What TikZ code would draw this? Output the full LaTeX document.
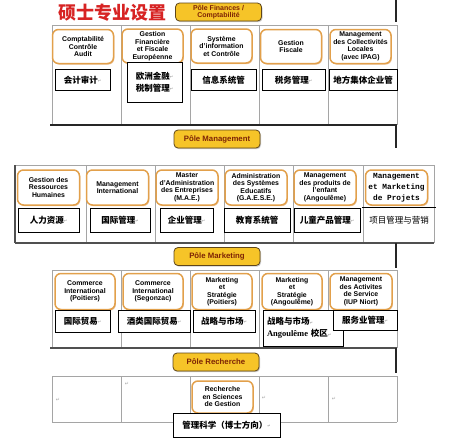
\documentclass[tikz,border=0pt]{standalone}
\usepackage{fontspec}
\setmainfont{Liberation Sans}
\newfontfamily\cjk{Noto Sans CJK SC}
\newfontfamily\monof{Liberation Mono}
\newfontfamily\symf{DejaVu Sans}
\newfontfamily\serf{Liberation Serif}
\usetikzlibrary{shadows}
\definecolor{pillorange}{RGB}{226,160,75}
\definecolor{polefill}{RGB}{246,196,40}
\definecolor{poleborder}{RGB}{95,70,25}
\definecolor{poletext}{RGB}{125,35,5}
\definecolor{titlered}{RGB}{215,35,35}
\definecolor{gridgray}{RGB}{165,165,165}
\definecolor{thickgray}{RGB}{80,80,80}
\newcommand{\rmk}{{\symf\color{gray!70}\fontsize{4}{4}\selectfont\raisebox{0.3ex}{↵}}}
\tikzset{
  pill/.style={draw=pillorange, line width=1.5pt, fill=white, rounded corners=6pt,
    drop shadow={shadow xshift=0.9pt, shadow yshift=-1.1pt, opacity=0.45, fill=brown!70!orange},
    font=\bfseries\fontsize{6.9}{7.5}\selectfont, align=center, inner sep=0pt,
    minimum width=61pt, minimum height=34pt},
  cbox/.style={draw=black, line width=0.8pt, fill=white,
    drop shadow={shadow xshift=0.6pt, shadow yshift=-0.6pt, opacity=0.25},
    font=\cjk\bfseries\fontsize{8.5}{12}\selectfont, inner sep=1pt, minimum height=21pt},
  pole/.style={draw=poleborder, line width=0.8pt, fill=polefill, rounded corners=4pt,
    drop shadow={shadow xshift=1pt, shadow yshift=-1.2pt, opacity=0.4},
    font=\bfseries\fontsize{7.8}{8}\selectfont, text=poletext, align=center,
    minimum width=86pt, minimum height=18pt, inner sep=0.5pt},
  grid/.style={draw=gridgray, line width=0.8pt},
  thickline/.style={draw=thickgray, line width=2pt},
  link/.style={draw=black!85, line width=1.4pt},
  retmark/.style={inner sep=0pt, font=\symf\color{gray!70}\fontsize{5}{5}\selectfont}
}
\begin{document}
\begin{tikzpicture}[x=1pt,y=-1pt]
\useasboundingbox (0,0) rectangle (450,440);
\fill[white] (0,0) rectangle (450,440);

% ---------- Section 1: Finances ----------
\node[font=\cjk\bfseries\fontsize{18}{18}\selectfont, text=titlered, inner sep=0pt] (title) at (112,13) {硕士专业设置};
\node[pole, font=\bfseries\fontsize{7}{7}\selectfont] (pfin) at (218.5,12) {Pôle Finances /\\Comptabilité};
\coordinate (f0) at (396,0);
\coordinate (f1) at (396,22);
\draw[link] (f0) -- (f1);

\foreach \x in {52,121,190,259,328,397} \draw[grid] (\x,25) -- (\x,125);
\draw[grid] (52,25) -- (397,25);
\coordinate (t1bl) at (50,125);
\coordinate (t1br) at (397,125);
\draw[draw=black!85, line width=1.4pt] (t1bl) -- (t1br);

\node[pill] (p11) at (83,46.5) {Comptabilité\\Contrôle\\Audit};
\node[pill] (p12) at (152.5,46) {Gestion\\Financière\\et Fiscale\\Européenne};
\node[pill] (p13) at (221.5,46) {Système\\d'information\\et Contrôle};
\node[pill] (p14) at (291,46.5) {Gestion\\Fiscale};
\node[pill] (p15) at (360.5,46.5) {Management\\des Collectivités\\Locales\\(avec IPAG)};

\node[cbox, minimum width=55pt] (c11) at (82.5,80) {会计审计\rmk};
\node[cbox, minimum width=55pt, minimum height=40pt, align=center] (c12) at (154.5,82) {欧洲金融\rmk\\税制管理\rmk};
\node[cbox, minimum width=65pt] (c13) at (223.5,80) {信息系统管};
\node[cbox, minimum width=63pt] (c14) at (293.5,80) {税务管理\rmk};
\node[cbox, minimum width=68pt] (c15) at (363,80) {地方集体企业管};

% ---------- Section 2: Management ----------
\coordinate (m0) at (396,125);
\coordinate (m1) at (396,148);
\draw[link] (m0) -- (m1);
\node[pole] (pman) at (217,139) {Pôle Management};

\foreach \x in {86,155,224,293,363,434} \draw[grid] (\x,165) -- (\x,243);
\draw[grid] (15,165) -- (434,165);
\draw[draw=thickgray, line width=1.4pt] (15,165) -- (15,243);
\coordinate (t2bl) at (15,243);
\coordinate (t2br) at (434,243);
\draw[thickline] (t2bl) -- (t2br);

\node[pill, minimum width=62pt, minimum height=35pt] (p21) at (48.5,187.5) {Gestion des\\Ressources\\Humaines};
\node[pill, minimum width=62pt, minimum height=35pt] (p22) at (117.5,187.5) {Management\\International};
\node[pill, minimum width=62pt, minimum height=35pt] (p23) at (187,187.5) {Master\\d'Administration\\des Entreprises\\(M.A.E.)};
\node[pill, minimum width=62pt, minimum height=35pt] (p24) at (256,187.5) {Administration\\des Systèmes\\Educatifs\\(G.A.E.S.E.)};
\node[pill, minimum width=62pt, minimum height=35pt] (p25) at (325,187.5) {Management\\des produits de\\l'enfant\\(Angoulême)};
\node[pill, minimum width=62pt, minimum height=35pt, font=\monof\bfseries\fontsize{7.8}{10.8}\selectfont] (p26) at (396.5,187.5) {Management\\et Marketing\\de Projets};

\node[cbox, minimum width=61pt, minimum height=24pt] (c21) at (48.5,220) {人力资源\rmk};
\node[cbox, minimum width=60pt, minimum height=24pt] (c22) at (120,220) {国际管理\rmk};
\node[cbox, minimum width=53pt, minimum height=24pt] (c23) at (186.5,220) {企业管理\rmk};
\node[cbox, minimum width=66pt, minimum height=24pt] (c24) at (257,220) {教育系统管};
\node[cbox, minimum width=66pt, minimum height=24pt] (c25) at (327,220) {儿童产品管理\rmk};
\node[inner sep=1pt, minimum width=74pt, minimum height=24pt, font=\cjk\fontsize{8.5}{10}\selectfont] (c26) at (399,220) {项目管理与营销};
\draw[black, line width=0.8pt] (c26.north west) -- (c26.north east);

% ---------- Section 3: Marketing ----------
\coordinate (k0) at (396,243);
\coordinate (k1) at (396,268);
\draw[link] (k0) -- (k1);
\node[pole] (pmar) at (217,256.5) {Pôle Marketing};

\foreach \x in {52,121,190,259,328,397} \draw[grid] (\x,270) -- (\x,348);
\draw[grid] (52,270) -- (397,270);
\coordinate (t3bl) at (50,348);
\coordinate (t3br) at (397,348);
\draw[thickline] (t3bl) -- (t3br);

\node[pill, minimum width=60pt, minimum height=36pt] (p31) at (85,291.5) {Commerce\\International\\(Poitiers)};
\node[pill, minimum width=60pt, minimum height=36pt] (p32) at (153,291.5) {Commerce\\International\\(Segonzac)};
\node[pill, minimum width=60pt, minimum height=36pt] (p33) at (222,291.5) {Marketing\\et\\Stratégie\\(Poitiers)};
\node[pill, minimum width=60pt, minimum height=36pt] (p34) at (292,291.5) {Marketing\\et\\Stratégie\\(Angoulême)};
\node[pill, minimum width=62pt, minimum height=36pt] (p35) at (361,291.5) {Management\\des Activites\\de Service\\(IUP Niort)};

\node[cbox, minimum width=55pt, minimum height=22pt] (c31) at (82.5,321) {国际贸易\rmk};
\node[cbox, minimum width=72pt, minimum height=22pt] (c32) at (154,321) {酒类国际贸易\rmk};
\node[cbox, minimum width=62pt, minimum height=22pt] (c33) at (224,321) {战略与市场\rmk};
\node[cbox, minimum width=80pt, minimum height=36pt, align=left, text width=72pt] (c34) at (303,328) {战略与市场\rmk\\{\serf\bfseries Angoulême} 校区\rmk};
\node[cbox, minimum width=64pt, minimum height=20pt] (c35) at (365,320) {服务业管理\rmk};

% ---------- Section 4: Recherche ----------
\coordinate (r0) at (396,348);
\coordinate (r1) at (396,373);
\draw[link] (r0) -- (r1);
\node[pole] (prec) at (216,362) {Pôle Recherche};

\foreach \x in {52,121,190,259,328,397} \draw[grid] (\x,376) -- (\x,422);
\draw[grid] (52,376) -- (397,376);
\draw[grid] (52,422) -- (397,422);

\node[retmark] (rm1) at (58,400) {↵};
\node[retmark] (rm2) at (127,384) {↵};
\node[retmark] (rm3) at (264,398) {↵};
\node[retmark] (rm4) at (334,399) {↵};

\node[pill, minimum width=61pt, minimum height=32pt] (p41) at (222.5,397) {Recherche\\en Sciences\\de Gestion};
\node[cbox, minimum width=107pt, minimum height=24pt] (c41) at (226.5,425) {管理科学（博士方向）\rmk};
\end{tikzpicture}
\end{document}
